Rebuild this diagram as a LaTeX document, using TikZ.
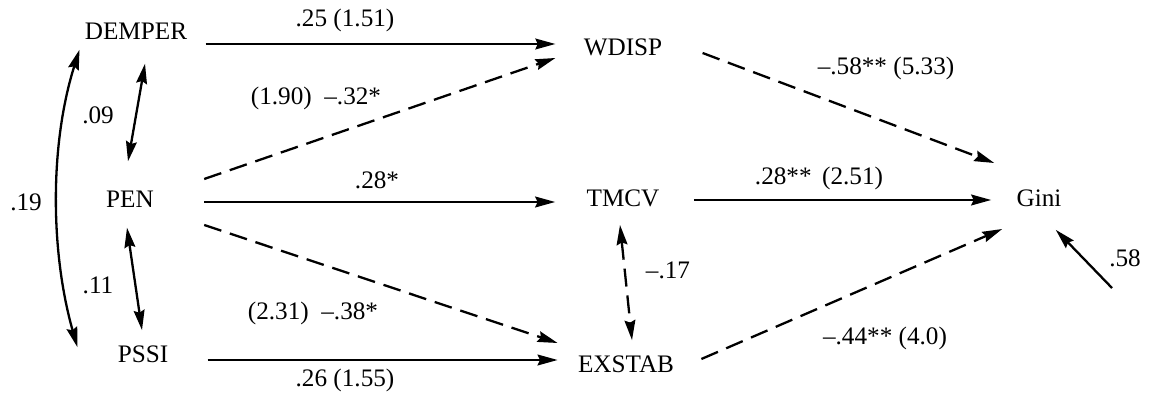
\documentclass[tikz,border=0pt]{standalone}
\usepackage{fontspec}
\setmainfont{Liberation Serif}
\usetikzlibrary{arrows.meta,calc}

\begin{document}
\begin{tikzpicture}[
      x=0.5pt, y=-0.5pt,
      >={Stealth[length=10pt,width=5.4pt,inset=1.2pt]},
      every node/.style={
        font=\fontsize{12.6}{15}\selectfont,
        inner sep=0pt
      },
      effect/.style={
        ->,
        line width=1.15pt
      },
      weak/.style={
        effect,
        dash pattern=on 9pt off 4.5pt
      },
      corr/.style={
        <->,
        line width=1.15pt
      },
    ]

    \useasboundingbox (0,0) rectangle (1149,394);

    % variables
    \node (DEMPER) at (136,31)  {DEMPER};
    \node (PEN)    at (130,199) {PEN};
    \node (PSSI)   at (143,354) {PSSI};
    \node (WDISP)  at (623,47)  {WDISP};
    \node (TMCV)   at (623,198) {TMCV};
    \node (EXSTAB) at (626,364) {EXSTAB};
    \node (Gini)   at (1039,198) {Gini};
    \coordinate (resid) at (1112,288);

    % coefficients
    \node (c1) at (345,20)  {.25 (1.51)};
    \node (c2) at (316,98)  {(1.90) \ –.32*};
    \node (c3) at (377,180) {.28*};
    \node (c4) at (313,313) {(2.31) \ –.38*};
    \node (c5) at (345,380) {.26 (1.55)};
    \node (c6) at (886,68)  {–.58** (5.33)};
    \node (c7) at (819,178) {.28** \,(2.51)};
    \node (c8) at (885,338) {–.44** (4.0)};
    \node (c9) at (668,270) {–.17};
    \node (r1) at (98,115)  {.09};
    \node (r2) at (98,285)  {.11};
    \node (r3) at (26,202)  {.19};
    \node (r4) at (1125,258) {.58};

    % paths
    \draw [effect] ($(DEMPER.east)+(18,13)$) -- ($(WDISP.west)+(-28,-3)$);
    \draw [weak]   ($(PEN.east)+(50,-20)$) -- ($(WDISP.west)+(-28,11)$);
    \draw [effect] ($(PEN.east)+(50,3)$) -- ($(TMCV.west)+(-31,4)$);
    \draw [weak]   ($(PEN.east)+(50,26)$) -- ($(EXSTAB.west)+(-20,-21)$);
    \draw [effect] ($(PSSI.east)+(39,6)$) -- ($(EXSTAB.west)+(-20,-4)$);
    \draw [weak]   ($(WDISP.east)+(40,6)$) -- ($(Gini.west)+(-22,-35)$);
    \draw [effect] ($(TMCV.east)+(34,2)$) -- ($(Gini.west)+(-25,2)$);
    \draw [weak]   ($(EXSTAB.east)+(27,-5)$) -- ($(Gini.west)+(-14,31)$);
    \draw [effect] (resid) -- ($(Gini.south east)+(-6,23)$);

    % correlations
    \draw [corr, dash pattern=on 9pt off 4.5pt]
      ($(TMCV.south)+(-3,18)$) -- ($(EXSTAB.north)+(6,-15)$);
    \draw [corr] ($(DEMPER.south)+(9,24)$) -- ($(PEN.north)+(-2,-29)$);
    \draw [corr] ($(PEN.south)+(-3,20)$) -- ($(PSSI.north)+(-1,-15)$);
    \draw [corr] ($(DEMPER.south west)+(-5,10)$)
      .. controls +(-30,95) and +(-27,-95) .. ($(PSSI.north west)+(-40,2)$);
  \end{tikzpicture}
\end{document}
